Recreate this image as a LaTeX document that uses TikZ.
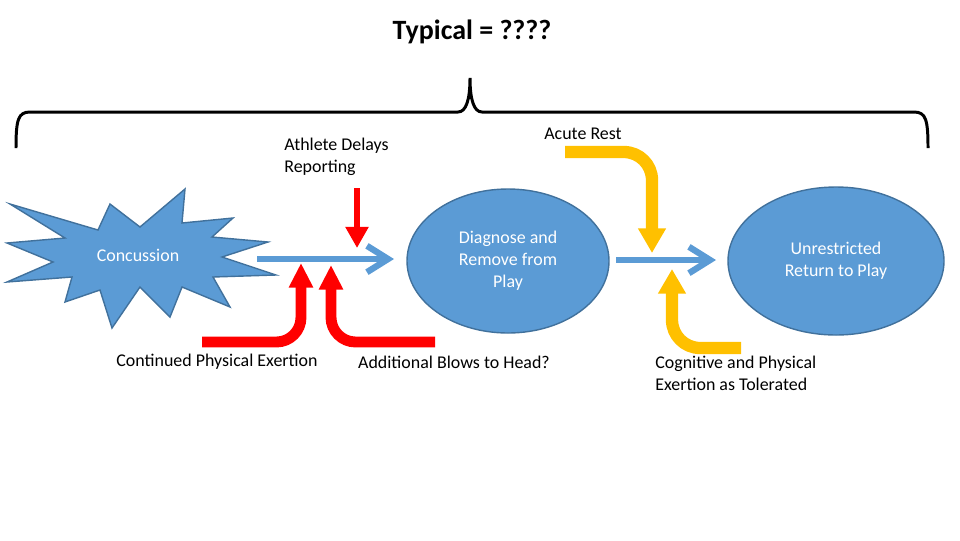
\documentclass[tikz,border=0pt]{standalone}
\usepackage{fontspec}
\setmainfont{Carlito}
\usetikzlibrary{arrows.meta, shapes.geometric, positioning}

\definecolor{shapeblue}{HTML}{5B9BD5}
\definecolor{edgeblue}{HTML}{41719C}
\definecolor{warnred}{HTML}{FF0000}
\definecolor{restgold}{HTML}{FFC000}

\begin{document}
\begin{tikzpicture}[
    x=0.2mm, y=-0.2mm,
    label/.style={font=\fontsize{10.2pt}{12.5pt}\selectfont, align=left, inner sep=0pt},
    inlabel/.style={font=\fontsize{10.2pt}{12.5pt}\selectfont, align=center, text=white, inner sep=0pt},
    stage/.style={draw=edgeblue, fill=shapeblue, ellipse, line width=0.8pt, inner sep=0pt},
    flow/.style={draw=shapeblue, line width=3.6pt, -{Straight Barb[length=12pt, width=15pt]}},
    redarrow/.style={draw=warnred, line width=6.2pt, rounded corners=14pt, -{Triangle[length=14pt, width=13pt]}},
    thinred/.style={draw=warnred, line width=3.4pt, -{Triangle[length=12pt, width=12.5pt]}},
    goldarrow/.style={draw=restgold, line width=7pt, rounded corners=16pt, -{Triangle[length=14pt, width=15pt]}},
]
\useasboundingbox (0,0) rectangle (960,540);

% Title and brace
\node[font=\fontsize{15.9pt}{19pt}\selectfont\bfseries] (title) at (472,32) {Typical = ????};
\draw[line width=1.7pt] (16,148) .. controls (16,120) and (18,112) .. (30,112) -- (458,112)
    .. controls (466,112) and (470,100) .. (470,78)
    .. controls (470,100) and (474,112) .. (482,112) -- (914,112)
    .. controls (926,112) and (928,120) .. (928,148);

% Concussion burst
\draw[edgeblue, fill=shapeblue, line width=0.8pt]
    (10,204) -- (98,230) -- (110,204) -- (140,227) -- (185,189) -- (182,223)
    -- (233,218) -- (212,237) -- (268,242) -- (222,257) -- (276,275) -- (213,277)
    -- (230,307) -- (182,287) -- (170,317) -- (140,287) -- (112,328) -- (100,290)
    -- (65,302) -- (72,277) -- (7,282) -- (53,262) -- (7,243) -- (65,238) -- cycle;
\node[inlabel] (conc) at (138,255) {Concussion};

% Stages
\node[stage, minimum width=40.4mm, minimum height=28.8mm] (diag) at (508,261) {};
\node[stage, minimum width=43.2mm, minimum height=29.6mm] (play) at (836,261) {};
\node[inlabel] (diagtext) at (diag) {Diagnose and\\Remove from\\Play};
\node[inlabel] (playtext) at (play) {Unrestricted\\Return to Play};

% Main flow
\coordinate (flowa) at (257,259);
\coordinate (flowb) at (394,259);
\coordinate (flowc) at (616,260);
\coordinate (flowd) at (716,260);
\draw[flow] (flowa) -- (flowb);
\draw[flow] (flowc) -- (flowd);

% Red factors
\node[label, anchor=west] (delay) at (284,157) {Athlete Delays\\Reporting};
\node[label] (exert) at (217,362) {Continued Physical Exertion};
\node[label] (blows) at (454,362) {Additional Blows to Head?};
\coordinate (delaytop) at (357,188);
\coordinate (delaytip) at (357,248);
\coordinate (exertstart) at (202,342);
\coordinate (exerttip) at (301,263);
\coordinate (blowsstart) at (435,342);
\coordinate (blowstip) at (331,265);
\draw[thinred] (delaytop) -- (delaytip);
\draw[redarrow] (exertstart) -| (exerttip);
\draw[redarrow] (blowsstart) -| (blowstip);

% Gold factors
\node[label] (rest) at (583,134) {Acute Rest};
\node[label, anchor=west] (cogn) at (655,373) {Cognitive and Physical\\Exertion as Tolerated};
\coordinate (reststart) at (565,152);
\coordinate (resttip) at (652,253);
\coordinate (cognstart) at (741,348);
\coordinate (cogntip) at (672,269);
\draw[goldarrow] (reststart) -| (resttip);
\draw[goldarrow] (cognstart) -| (cogntip);
\end{tikzpicture}
\end{document}
